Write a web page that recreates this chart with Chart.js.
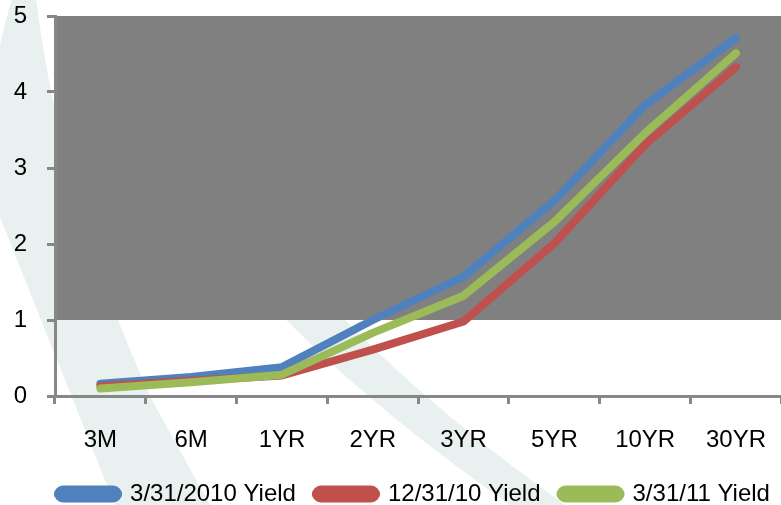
<!DOCTYPE html>
<html>
<head>
<meta charset="utf-8">
<script src="https://cdn.jsdelivr.net/npm/chart.js@4"></script>
<style>
  html, body { margin: 0; padding: 0; background: #fff; overflow: hidden; }
  #wrap { width: 781px; height: 505px; overflow: hidden; }
  #wrap div { width: 788px; height: 505px; position: relative; }
</style>
</head>
<body>
<div id="wrap"><div><canvas id="chart1"></canvas></div></div>
<script>
// Data
const categories = ['3M', '6M', '1YR', '2YR', '3YR', '5YR', '10YR', '30YR'];
const yield2010 = [0.16, 0.25, 0.38, 1.00, 1.57, 2.57, 3.83, 4.71];
const yield1210 = [0.13, 0.20, 0.27, 0.61, 0.98, 2.01, 3.31, 4.33];
const yield0311 = [0.10, 0.18, 0.28, 0.83, 1.32, 2.29, 3.46, 4.51];
const seriesNames = ['3/31/2010 Yield', '12/31/10 Yield', '3/31/11 Yield'];
const bandFrom = 1, bandTo = 5;   // shaded band on the value axis

const axisGray = '#878787';
const font = { family: '"Liberation Sans", Arial, sans-serif', size: 24 };

// pale watermark stripes + the grey plot band
const backdrop = {
  id: 'backdrop',
  afterLayout(chart) {
    // legend sits a little right of centre in the original
    chart.legend.left += 20;
    chart.legend.right += 20;
  },
  beforeDraw(chart) {
    const ctx = chart.ctx, a = chart.chartArea, y = chart.scales.y;
    ctx.save();
    ctx.fillStyle = '#e9f0f0';
    ctx.beginPath();
    ctx.moveTo(15, -10);
    ctx.quadraticCurveTo(-25, 110, 0, 217);
    ctx.lineTo(115, 505);
    ctx.lineTo(210, 505);
    ctx.lineTo(152, 400);
    ctx.quadraticCurveTo(60, 200, 35, -10);
    ctx.closePath();
    ctx.fill();
    ctx.beginPath();
    ctx.moveTo(150, 150);
    ctx.quadraticCurveTo(260, 330, 510, 505);
    ctx.lineTo(565, 505);
    ctx.quadraticCurveTo(320, 330, 210, 150);
    ctx.closePath();
    ctx.fill();
    ctx.fillStyle = '#808080';
    const top = y.getPixelForValue(bandTo), bot = y.getPixelForValue(bandFrom);
    ctx.fillRect(a.left, top, chart.width - a.left, bot - top);
    ctx.restore();
  }
};

function line(label, data, color, order) {
  return {
    label, data, order,
    borderColor: color, backgroundColor: color,
    borderWidth: 8, pointRadius: 0, tension: 0,
    borderCapStyle: 'round', borderJoinStyle: 'round'
  };
}

new Chart(document.getElementById('chart1'), {
  type: 'line',
  data: {
    labels: categories,
    datasets: [
      line(seriesNames[0], yield2010, '#4f81bd', 3),
      line(seriesNames[1], yield1210, '#c0504d', 2),
      line(seriesNames[2], yield0311, '#9bbb59', 1)
    ]
  },
  options: {
    responsive: true,
    maintainAspectRatio: false,
    animation: false,
    layout: { padding: { left: 0, top: 16, right: 0, bottom: -11 } },
    plugins: {
      tooltip: { enabled: false },
      legend: {
        position: 'bottom',
        labels: {
          color: '#000', font,
          boxWidth: 60, boxHeight: 9, padding: 20,
          useBorderRadius: true, borderRadius: 5,
          sort: (a, b) => a.datasetIndex - b.datasetIndex
        }
      }
    },
    scales: {
      x: {
        offset: true,
        grid: { offset: true, drawOnChartArea: false, color: axisGray, lineWidth: 3, tickLength: 8 },
        border: { color: axisGray, width: 3 },
        ticks: { color: '#000', font, padding: 22, maxRotation: 0 },
        afterFit(s) { s.height = 66; }
      },
      y: {
        min: 0, max: 5,
        grid: { drawOnChartArea: false, color: axisGray, lineWidth: 3, tickLength: 8 },
        border: { color: axisGray, width: 3 },
        ticks: { color: '#000', font, stepSize: 1, padding: 20 },
        afterFit(s) { s.width = 55; s.paddingTop = 0; s.paddingBottom = 0; }
      }
    }
  },
  plugins: [backdrop]
});
</script>
</body>
</html>
